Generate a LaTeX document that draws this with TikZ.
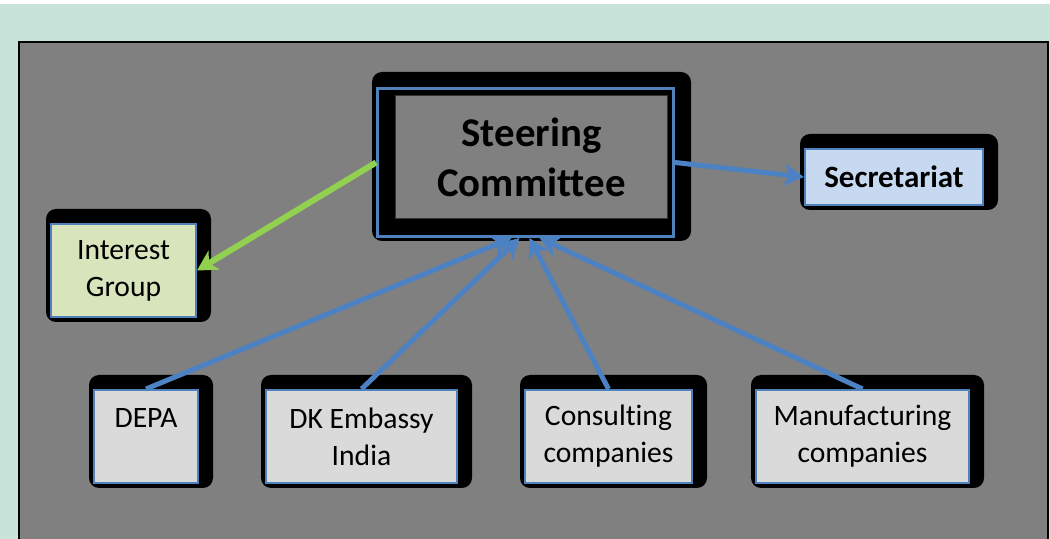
\documentclass[tikz,border=0pt]{standalone}
\usepackage{fontspec}
\setmainfont{Carlito}[Ligatures=NoCommon]
\usetikzlibrary{positioning}
\usetikzlibrary{calc}
\usetikzlibrary{backgrounds}
\usetikzlibrary{arrows.meta}

\definecolor{mintbg}{RGB}{200,228,218}
\definecolor{panelgray}{RGB}{128,128,128}
\definecolor{boxgray}{RGB}{218,218,218}
\definecolor{groupgreen}{RGB}{216,228,188}
\definecolor{secrblue}{RGB}{198,217,241}
\definecolor{frameblue}{RGB}{79,129,189}
\definecolor{linkblue}{RGB}{76,130,196}
\definecolor{linkgreen}{RGB}{146,208,80}

\begin{document}
\begin{tikzpicture}[x=0.5pt, y=-0.5pt,
	member/.style={rectangle, draw=frameblue, line width=1pt, fill=boxgray, align=center, inner sep=0pt, minimum height=46.5pt, font=\fontsize{14.8}{18.5}\selectfont},
	backdrop/.style={fill=black, rounded corners=5pt},
	feed/.style={draw=linkblue, line width=2.5pt, -{Stealth[length=10pt, width=11pt, inset=3pt]}}]
	\useasboundingbox (0,0) rectangle (1050,539);

	% page and panel
	\begin{scope}[on background layer]
		\fill[white] (0,0) rectangle (1050,539);
		\fill[mintbg] (0,4) rectangle (1050,539);
		\draw[fill=panelgray, line width=1pt] (19,42) rectangle (1048,560);
	\end{scope}

	% nodes
	\node[draw=frameblue, line width=1.5pt, fill=black, minimum width=148pt, minimum height=74pt] (steer) at (525.5,162.5) {};
	\node[draw=black!80, line width=0.6pt, fill=panelgray, minimum width=136pt, minimum height=61.5pt, align=center, font=\fontsize{20.4}{25}\selectfont\bfseries] (steertext) at (531.5,157) {Steering\\Committee}; %
	\node[member, fill=secrblue, minimum width=89pt, minimum height=28pt, font=\fontsize{15.5}{19}\selectfont\bfseries] (secr) at (894,177) {Secretariat}; %
	\node[member, fill=groupgreen, minimum width=72.5pt] (interest) at (123.5,270.5) {Interest\\Group}; %
	\node[member, minimum width=52pt] (depa) at (146,436.5) {DEPA\\\phantom{I}}; %
	\node[member, minimum width=95.5pt, right=33pt of depa] (embassy) {DK Embassy\\India}; %
	\node[member, minimum width=83.5pt, right=33pt of embassy] (consult) {Consulting\\companies}; %
	\node[member, minimum width=106.5pt, right=31pt of consult] (manuf) {Manufacturing\\companies}; %

	% shadows
	\begin{scope}[on background layer]
		\fill[backdrop] ($(steer.south west)+(-4,3)$) rectangle ($(steer.north east)+(16,-15)$);
		\foreach \n in {secr,interest,depa,embassy,consult,manuf}
			\fill[backdrop] ($(\n.south west)+(-4,4)$) rectangle ($(\n.north east)+(14,-14)$);
	\end{scope}

	% edges
	\draw[feed, draw=linkgreen, line width=3pt] (steer.west) -- (interest.east);
	\draw[feed] (steer.east) -- (secr.west);
	\draw[feed] (depa.north) -- ([xshift=-7pt]steer.south);
	\draw[feed] (embassy.north) -- ([xshift=-3pt]steer.south);
	\draw[feed] (consult.north) -- ([xshift=2pt]steer.south);
	\draw[feed] (manuf.north) -- ([xshift=7pt]steer.south);
\end{tikzpicture}
\end{document}
